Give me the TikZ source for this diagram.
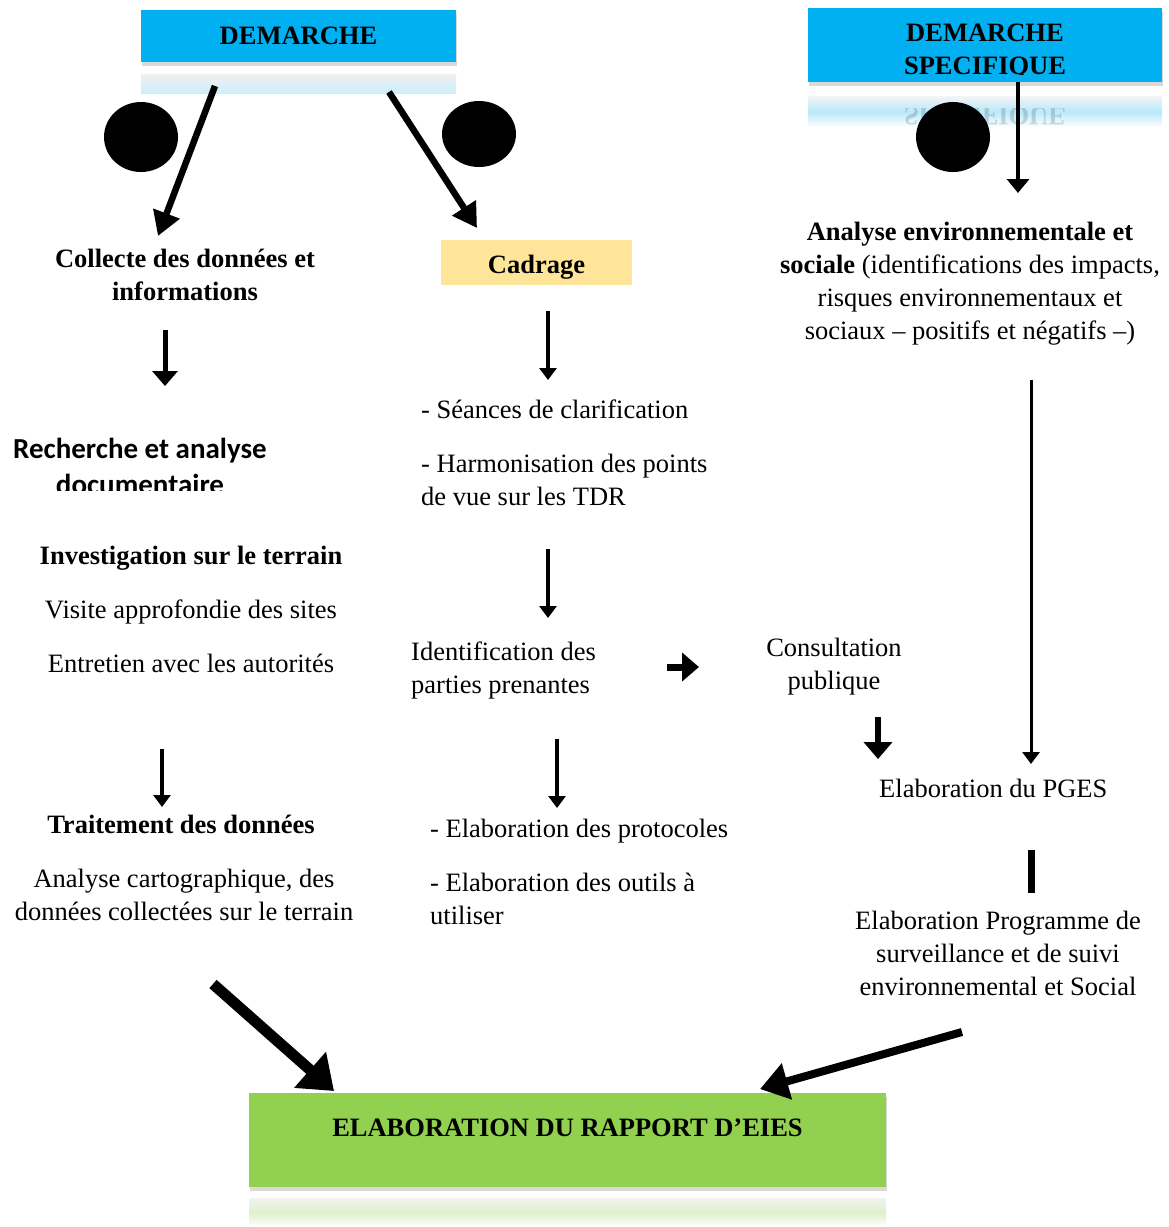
\documentclass[tikz,border=0pt]{standalone}
\usepackage{fontspec}
\setmainfont{Liberation Serif}
\newfontfamily\calibri{Carlito}
\usetikzlibrary{arrows.meta}
\usetikzlibrary{positioning}
\usetikzlibrary{shapes.geometric}
\usetikzlibrary{shadows}
\definecolor{boxblue}{RGB}{0,176,240}
\definecolor{boxyellow}{RGB}{255,229,153}
\definecolor{boxgreen}{RGB}{146,208,80}
\tikzset{txt/.style = {font = \fontsize{26.5}{33}\selectfont, inner sep = 0}}
\tikzset{bold/.style = {font = \fontsize{26.5}{33}\selectfont\bfseries, inner sep = 0}}
\tikzset{box/.style = {bold, drop shadow = {shadow xshift = 1pt, shadow yshift = -4pt, opacity = 0.3}}}
\tikzset{dot/.style = {fill, ellipse, inner sep = 0}}
\tikzset{thinarrow/.style = {line width = 3.5pt, -{Triangle[length = 12pt, width = 17pt]}}}
\tikzset{midarrow/.style = {line width = 5pt, -{Triangle[length = 15pt, width = 25pt]}}}
\tikzset{diagarrow/.style = {line width = 6.5pt, -{Triangle[length = 24pt, width = 27pt]}}}
\tikzset{bigarrow/.style = {line width = 11pt, -{Triangle[length = 32pt, width = 46pt]}}}

\begin{document}
\begin{tikzpicture}[x = 1pt, y = -1pt]
    \useasboundingbox (0, 0) rectangle (1169, 1227);

    \shade [top color = black!6, bottom color = boxblue!20] (141, 74) rectangle (456, 93);
    \node [box, fill = boxblue, minimum width = 315, text height = 34, text depth = 18, anchor = base] (demarche) at (298.5, 44) {DEMARCHE};

    \shade [top color = black!4, bottom color = white, middle color = boxblue!28] (808, 96) rectangle (1162, 127);
    \begin{scope}
        \clip (808, 108) rectangle (1162, 127);
        \node [bold, opacity = 0.15, yscale = -1, transform shape, anchor = base] (reflet) at (985, 107) {SPECIFIQUE};
    \end{scope}
    \node [box, fill = boxblue, minimum width = 354, minimum height = 74] (specifique) at (985, 45) {};
    \begin{scope}
        \clip (808, 8) rectangle (1162, 74);
        \node [bold, align = center, anchor = base] (specifiquetext) at (985, 74) {DEMARCHE\\SPECIFIQUE};
    \end{scope}

    \node [dot, minimum width = 74, minimum height = 70] (dotA) at (141, 137) {};
    \node [dot, minimum width = 74, minimum height = 66] (dotB) at (479, 134) {};
    \node [dot, minimum width = 74, minimum height = 70] (dotC) at (953, 137) {};

    \node [bold, align = center, anchor = base] (collecte) at (185, 300) {Collecte des données et\\informations};
    \node [bold, fill = boxyellow, minimum width = 191, text height = 33, text depth = 12, anchor = base] (cadrage) at (536.5, 273) {Cadrage};
    \node [txt, align = center, anchor = base] (analyse) at (970, 339) {\textbf{Analyse environnementale et}\\\textbf{sociale} (identifications des impacts,\\risques environnementaux et\\sociaux – positifs et négatifs –)};

    \begin{scope}
        \clip (0, 420) rectangle (300, 490);
        \node [font = \calibri\fontsize{29}{36}\selectfont\bfseries, inner sep = 0, align = center, anchor = base] (recherche) at (140, 494) {Recherche et analyse\\documentaire};
    \end{scope}
    \node [txt, anchor = base west] (seances) at (421, 418) {- Séances de clarification};
    \node [txt, align = left, anchor = base west] (harmonisation) at (421, 505) {- Harmonisation des points\\de vue sur les TDR};

    \node [bold, anchor = base] (investigation) at (191, 564) {Investigation sur le terrain};
    \node [txt, anchor = base] (visite) at (191, 618) {Visite approfondie des sites};
    \node [txt, anchor = base] (entretien) at (191, 672) {Entretien avec les autorités};
    \node [txt, align = left, anchor = base west] (identification) at (411, 693) {Identification des\\parties prenantes};
    \node [txt, align = center, anchor = base] (consultation) at (834, 689) {Consultation\\publique};
    \node [txt, anchor = base west] (pges) at (879, 797) {Elaboration du PGES};

    \node [bold, anchor = base] (traitement) at (181, 833) {Traitement des données};
    \node [txt, align = center, anchor = base] (cartographie) at (184, 920) {Analyse cartographique, des\\données collectées sur le terrain};
    \node [txt, anchor = base west] (protocoles) at (430, 837) {- Elaboration des protocoles};
    \node [txt, align = left, anchor = base west] (outils) at (430, 924) {- Elaboration des outils à\\utiliser};
    \node [txt, align = center, anchor = base] (programme) at (998, 995) {Elaboration Programme de\\surveillance et de suivi\\environnemental et Social};

    \shade [top color = black!5, bottom color = white, middle color = boxgreen!30] (249, 1198) rectangle (886, 1227);
    \node [box, fill = boxgreen, minimum width = 637, text height = 43, text depth = 51, anchor = base] (rapport) at (567.5, 1136) {ELABORATION DU RAPPORT D’EIES};

    \foreach \name/\x/\y in {dA/215/86, dB/158/236, dC/389/92, dD/477/228, sA/1018/82, sB/1018/193,
                             cA/165/330, cB/165/386, kA/548/311, kB/548/380, lA/1031/380, lB/1031/764,
                             hA/548/549, hB/548/618, iA/667/667, iB/699/667, pA/878/717, pB/878/759,
                             eA/162/749, eB/162/807, oA/557/739, oB/557/808, bA/1031/850, bB/1031/893,
                             tA/213/984, tB/334/1091, gA/962/1032, gB/760/1089}
        \coordinate (\name) at (\x, \y);

    \draw [diagarrow] (dA) -- (dB);
    \draw [diagarrow] (dC) -- (dD);
    \draw [line width = 4pt, -{Triangle[length = 14pt, width = 22pt]}] (sA) -- (sB);

    \draw [midarrow] (cA) -- (cB);
    \draw [thinarrow] (kA) -- (kB);
    \draw [line width = 3pt, -{Triangle[length = 12pt, width = 17pt]}] (lA) -- (lB);
    \draw [thinarrow] (hA) -- (hB);
    \draw [line width = 7pt, -{Triangle[length = 17pt, width = 28pt]}] (iA) -- (iB);
    \draw [line width = 6pt, -{Triangle[length = 17pt, width = 28pt]}] (pA) -- (pB);
    \draw [thinarrow] (eA) -- (eB);
    \draw [thinarrow] (oA) -- (oB);
    \draw [line width = 7pt] (bA) -- (bB);

    \draw [bigarrow] (tA) -- (tB);
    \draw [line width = 8pt, -{Triangle[length = 28pt, width = 36pt]}] (gA) -- (gB);
\end{tikzpicture}
\end{document}
